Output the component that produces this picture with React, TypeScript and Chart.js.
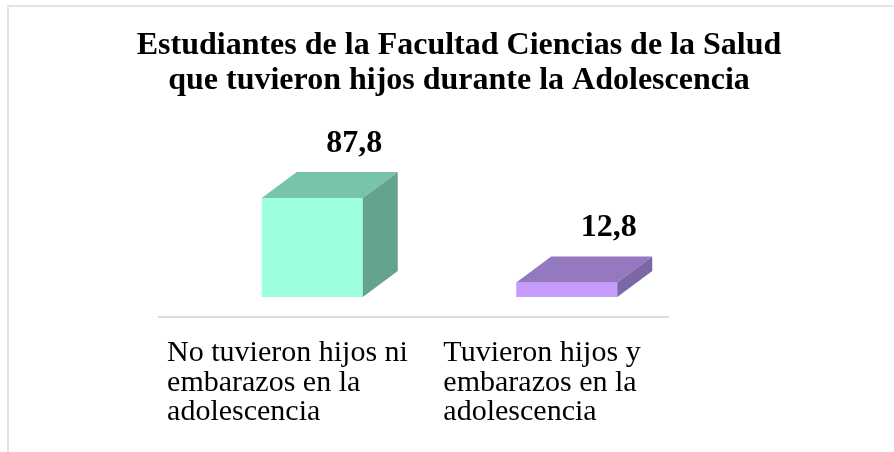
import React, { useEffect, useRef } from "react";
import { Chart, registerables } from "chart.js";

Chart.register(...registerables);

const TITLE_LINES = [
  "Estudiantes de la Facultad Ciencias de la Salud",
  "que tuvieron hijos durante la Adolescencia",
];
const CATEGORIES = [
  ["No tuvieron hijos ni", "embarazos en la", "adolescencia"],
  ["Tuvieron hijos y", "embarazos en la", "adolescencia"],
];
const VALUES = [87.8, 12.8];
const FRONT_COLORS = ["#9cffe0", "#c59cfc"];
const TOP_COLORS = ["#77c3ab", "#9479c0"];
const SIDE_COLORS = ["#64a48e", "#7d66a5"];
const Y_MIN = 0;
const Y_MAX = 100;

const SERIF = '"Liberation Serif", "Times New Roman", serif';
const SHIFT_X = 26;
const SHIFT_Y = -20;
const DEPTH_X = 35;
const DEPTH_Y = -26;

const bar3d = {
  id: "bar3d",
  beforeDraw(chart: any) {
    const ctx = chart.ctx;
    ctx.save();
    ctx.fillStyle = "#ffffff";
    ctx.fillRect(0, 0, chart.width, chart.height);
    ctx.strokeStyle = "#dfe4ea";
    ctx.lineWidth = 2;
    ctx.strokeRect(8, 6, chart.width + 20, chart.height + 20);
    ctx.restore();
  },
  beforeDatasetsDraw(chart: any) {
    chart.ctx.save();
    chart.ctx.translate(SHIFT_X, SHIFT_Y);
  },
  afterDatasetsDraw(chart: any) {
    const ctx = chart.ctx;
    ctx.restore();
    ctx.save();
    const meta = chart.getDatasetMeta(0);
    meta.data.forEach((el: any, i: number) => {
      const { x, y, base, width } = el.getProps(["x", "y", "base", "width"], true);
      const l = x - width / 2 + SHIFT_X;
      const r = x + width / 2 + SHIFT_X;
      const t = y + SHIFT_Y;
      const b = base + SHIFT_Y;
      // top face
      ctx.fillStyle = TOP_COLORS[i];
      ctx.beginPath();
      ctx.moveTo(l, t);
      ctx.lineTo(r, t);
      ctx.lineTo(r + DEPTH_X, t + DEPTH_Y);
      ctx.lineTo(l + DEPTH_X, t + DEPTH_Y);
      ctx.closePath();
      ctx.fill();
      // side face
      ctx.fillStyle = SIDE_COLORS[i];
      ctx.beginPath();
      ctx.moveTo(r, t);
      ctx.lineTo(r + DEPTH_X, t + DEPTH_Y);
      ctx.lineTo(r + DEPTH_X, b + DEPTH_Y);
      ctx.lineTo(r, b);
      ctx.closePath();
      ctx.fill();
      // value label
      ctx.fillStyle = "#000000";
      ctx.font = `bold 32px ${SERIF}`;
      ctx.textAlign = "center";
      ctx.textBaseline = "middle";
      ctx.fillText(String(VALUES[i]).replace(".", ","), x + SHIFT_X + 42, t + DEPTH_Y - 28.5);
    });
    // category labels (left-aligned lines)
    const xs = chart.scales.x;
    ctx.fillStyle = "#000000";
    ctx.font = `30px ${SERIF}`;
    ctx.textAlign = "left";
    ctx.textBaseline = "alphabetic";
    CATEGORIES.forEach((lines, i) => {
      const cx = xs.getPixelForValue(i) + 1.25;
      const w = Math.max(...lines.map((s) => ctx.measureText(s).width));
      lines.forEach((s, j) => {
        ctx.fillText(s, cx - w / 2, xs.bottom + 44 + j * 29.5);
      });
    });
    ctx.restore();
  },
};

export default function App() {
  const ref = useRef<HTMLCanvasElement | null>(null);
  useEffect(() => {
    if (!ref.current) return;
    const chart = new Chart(ref.current, {
      type: "bar",
      data: {
        labels: CATEGORIES,
        datasets: [
          {
            data: VALUES,
            backgroundColor: FRONT_COLORS,
            borderWidth: 0,
            barPercentage: 0.397,
            categoryPercentage: 1,
            clip: false,
            yAxisID: "y",
          } as any,
        ],
      },
      options: {
        responsive: false,
        animation: false,
        devicePixelRatio: 1,
        layout: { padding: { left: 100, right: 76, top: 0, bottom: 135 } },
        plugins: {
          legend: { display: false },
          tooltip: { enabled: false },
          title: {
            display: true,
            text: TITLE_LINES,
            color: "#000000",
            font: { family: SERIF, size: 32, weight: "bold", lineHeight: 35 / 32 },
            padding: { top: 28.5, bottom: 105.74 },
          },
        },
        scales: {
          x: {
            display: true,
            grid: { display: false, drawTicks: false },
            ticks: { display: false },
            border: { display: true, color: "#d9dde3", width: 2 },
          },
          y: {
            position: "left",
            display: true,
            min: Y_MIN,
            max: Y_MAX,
            grid: { display: false, drawTicks: false },
            ticks: { display: false },
            border: { display: false },
            afterFit: (s: any) => {
              s.width = 59;
            },
          },
          yRight: {
            type: "linear",
            position: "right",
            display: true,
            min: Y_MIN,
            max: Y_MAX,
            grid: { display: false, drawTicks: false },
            ticks: { display: false },
            border: { display: false },
            afterFit: (s: any) => {
              s.width = 150;
            },
          },
        },
      } as any,
      plugins: [bar3d],
    });
    return () => chart.destroy();
  }, []);
  return (
    <div style={{ position: "absolute", left: 0, top: 0, width: 894, height: 452 }}>
      <canvas ref={ref} width={894} height={452} />
    </div>
  );
}
